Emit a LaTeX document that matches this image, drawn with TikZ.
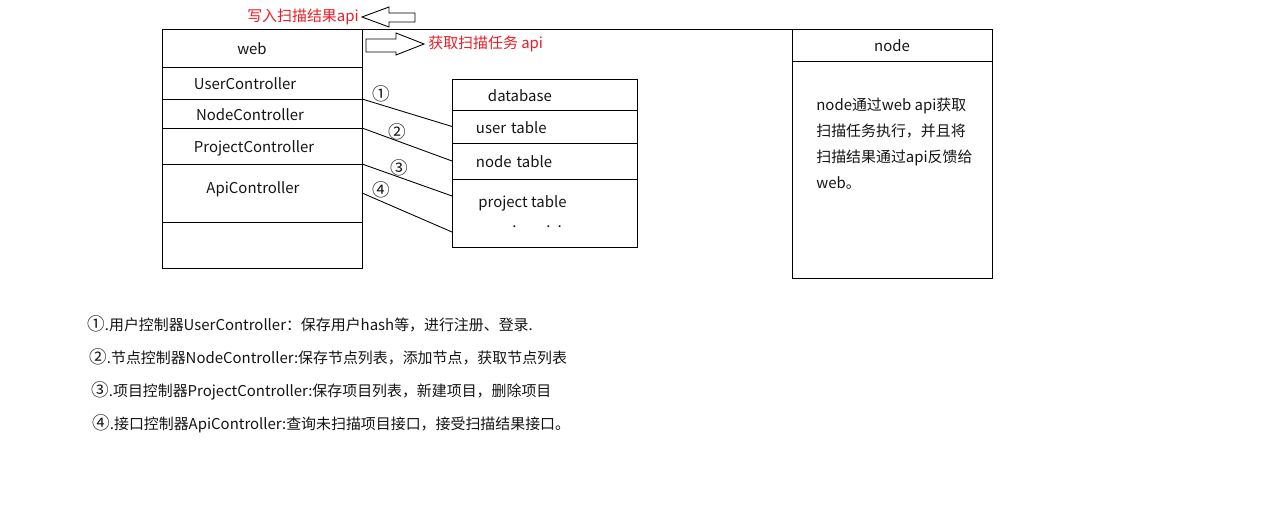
\documentclass[tikz,border=0pt]{standalone}
\usepackage{fontspec}
\setmainfont{Noto Sans CJK SC}
\usepackage{xcolor}
\definecolor{LabelRed}{RGB}{237,28,36}
\definecolor{TextBlack}{RGB}{20,20,20}
\usepackage{tikz}
\usetikzlibrary{
  shapes,
  positioning, calc
}
\newcommand{\diagfont}{\fontsize{8.5pt}{14.7pt}\selectfont}
\newcommand{\circfont}{\fontsize{10pt}{14.7pt}\selectfont}
\tikzset{
  % Cell of the web / node column
  webcell/.style={
    rectangle, draw=black, line width=0.5pt,
    minimum width=4cm, inner sep=0pt, outer sep=0pt,
    text height=0.3cm, text depth=0.02cm,
    anchor=north west, align=center,
    font=\diagfont, text=TextBlack
  },
  % Cell of the database column
  dbcell/.style={
    rectangle, draw=black, line width=0.5pt,
    minimum width=3.7cm, text width=2.74cm,
    inner xsep=0.48cm, inner ysep=0pt, outer sep=0pt,
    text height=0.3cm, text depth=0.02cm,
    anchor=north west, align=left,
    font=\diagfont, text=TextBlack
  },
  % Plain text
  plaintxt/.style={font=\diagfont, text=TextBlack, inner sep=0pt, align=left},
  redtxt/.style={font=\diagfont, text=LabelRed, inner sep=0pt},
  % Circled number on a link
  circnum/.style={font=\circfont, text=TextBlack, inner sep=0.5pt},
  % Links
  link/.style={draw=black, line width=0.5pt},
  hollow/.style={draw=black, line width=0.5pt, fill=white},
}

\begin{document}
\begin{tikzpicture}[x=0.02cm, y=-0.02cm]
  \useasboundingbox (0,0) rectangle (1268,509);

  % web column
  \node[webcell, minimum height=0.76cm] (webhead) at (162,29) {web\hspace*{0.4cm}};
  \node[webcell, minimum height=0.64cm, below=0pt of webhead] (usercell) {UserController\hspace*{0.68cm}};
  \node[webcell, minimum height=0.58cm, below=0pt of usercell] (nodecell) {NodeController\hspace*{0.48cm}};
  \node[webcell, minimum height=0.72cm, below=0pt of nodecell] (projcell) {ProjectController\hspace*{0.32cm}};
  \node[webcell, minimum height=1.16cm, text height=0.26cm, text depth=0.24cm, below=0pt of projcell] (apicell) {ApiController\hspace*{0.36cm}};
  \node[webcell, minimum height=0.92cm, below=0pt of apicell] (restcell) {};

  % database column
  \node[dbcell, minimum height=0.62cm, inner xsep=0.72cm, text width=2.26cm] (dbhead) at (452,79) {database};
  \node[dbcell, minimum height=0.66cm, below=0pt of dbhead] (usertbl) {user table};
  \node[dbcell, minimum height=0.72cm, below=0pt of usertbl] (nodetbl) {node table};
  \node[dbcell, minimum height=1.36cm, below=0pt of nodetbl] (projtbl) {};
  \node[plaintxt, anchor=north west] (projtxt) at ($(projtbl.north west)+(26,16)$)
    {project table\\[-3pt]\hspace*{0.68cm}.\hspace{0.6cm}.\hspace{0.14cm}.};

  % node column
  \node[webcell, minimum height=0.64cm] (nodehead) at (792,29) {node};
  \node[webcell, minimum height=4.34cm, below=0pt of nodehead] (nodebody) {};
  \node[plaintxt, anchor=north west] (nodetxt) at ($(nodebody.north west)+(24,37)$)
    {node通过web api获取\\扫描任务执行，并且将\\扫描结果通过api反馈给\\web。};

  \draw[link] (webhead.north east) -- (nodehead.north west);

  % links web -> database
  \draw[link] (usercell.south east) -- node[circnum, pos=0.22, above=1pt] (c1) {①} (usertbl.west);
  \draw[link] (nodecell.south east) -- node[circnum, pos=0.39, above=0pt] (c2) {②} (nodetbl.west);
  \draw[link] (projcell.south east) -- node[circnum, pos=0.42, above=0pt] (c3) {③}
    ($(projtbl.north west)!0.25!(projtbl.south west)$);
  \draw[link] (apicell.east) -- node[circnum, pos=0.21, above=1pt] (c4) {④}
    ($(projtbl.north west)!0.78!(projtbl.south west)$);

  % api arrows
  \draw[hollow] (362,17) -- (389,7) -- (389,13) -- (415,13) -- (415,22)
    -- (389,22) -- (389,27) -- cycle;
  \coordinate (wrtip) at (362,17);
  \node[redtxt, anchor=east] (wrtxt) at ($(wrtip)+(-3,0)$) {写入扫描结果api};
  \draw[hollow] (424,44) -- (396,33) -- (396,39) -- (366,39) -- (366,52)
    -- (396,52) -- (396,55) -- cycle;
  \coordinate (gettip) at (424,44);
  \node[redtxt, anchor=west] (gettxt) at ($(gettip)+(4,0)$) {获取扫描任务 api};

  % notes
  \node[plaintxt, anchor=west] (note1) at (87,324) {{\circfont ①}.用户控制器UserController：保存用户hash等，进行注册、登录.};
  \node[plaintxt, anchor=west] (note2) at (89,357) {{\circfont ②}.节点控制器NodeController:保存节点列表，添加节点，获取节点列表};
  \node[plaintxt, anchor=west] (note3) at (91,391) {{\circfont ③}.项目控制器ProjectController:保存项目列表，新建项目，删除项目};
  \node[plaintxt, anchor=west] (note4) at (92,424) {{\circfont ④}.接口控制器ApiController:查询未扫描项目接口，接受扫描结果接口。};
\end{tikzpicture}
\end{document}
